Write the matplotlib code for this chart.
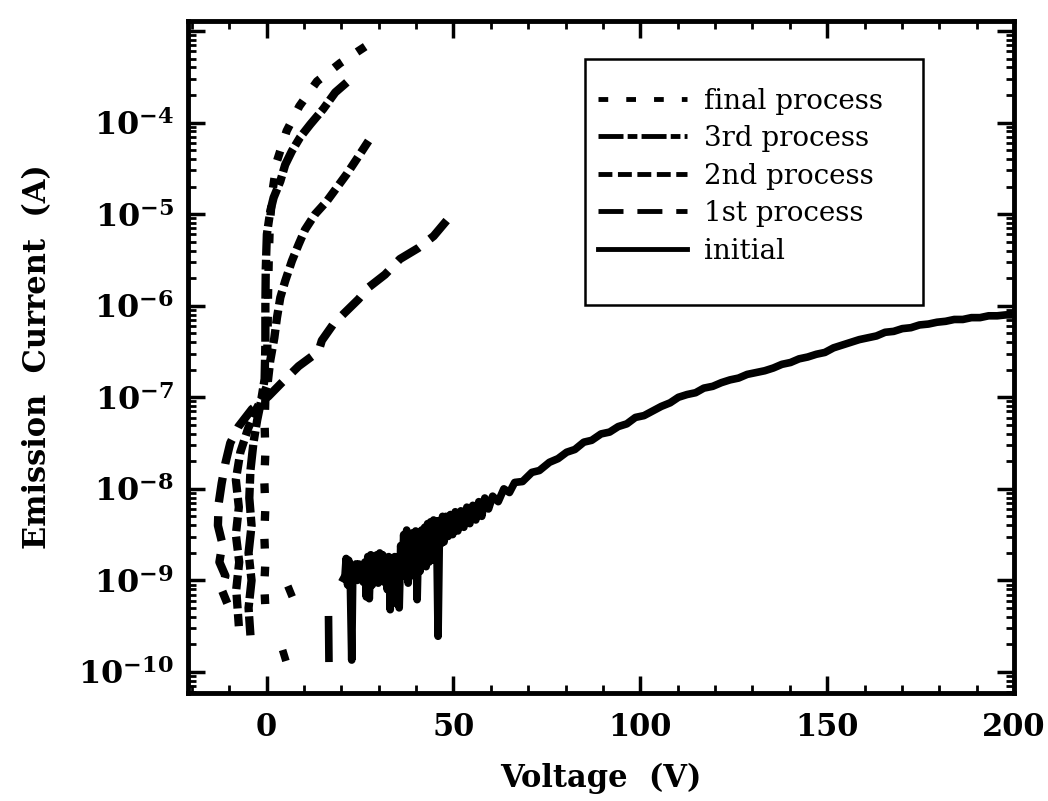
import numpy as np
import matplotlib
matplotlib.use("Agg")
import matplotlib.pyplot as plt
from matplotlib.patches import Rectangle
from matplotlib.ticker import FixedLocator, FixedFormatter, MultipleLocator, LogLocator, NullFormatter

plt.rcParams['font.family'] = ['DejaVu Serif']
plt.rcParams['mathtext.fontset'] = 'dejavuserif'
plt.rcParams['lines.scale_dashes'] = False

nan = np.nan

# each row: voltage (V), log10 of emission current (A)
initial = np.array([
    [4.6, -9.80], [4.9, -9.84], [nan, nan], [6.1, -9.10], [6.5, -9.14], [nan, nan],
    [16.6, -9.43], [16.7, -9.85], [nan, nan],
    [20.6, -8.98], [21.0, -8.95], [21.3, -8.76], [21.7, -9.05], [22.0, -8.78],
    [22.4, -8.95], [22.8, -9.87], [23.1, -8.85], [23.5, -8.98], [23.9, -8.82],
    [24.3, -9.00], [24.7, -8.82], [25.1, -8.98], [25.5, -8.84], [25.9, -9.02],
    [26.3, -8.80], [26.7, -9.18], [27.1, -8.74], [27.5, -9.20], [27.9, -8.72],
    [28.3, -9.05], [28.7, -8.78], [29.1, -8.95], [29.5, -8.72], [29.9, -9.03],
    [30.3, -8.70], [30.7, -8.98], [31.1, -8.72], [31.5, -9.02], [31.9, -8.78],
    [32.3, -9.10], [32.7, -8.74], [33.1, -9.32], [33.5, -8.76], [33.9, -9.25],
    [34.3, -8.74], [34.7, -9.05], [35.1, -8.78], [35.5, -9.30], [35.9, -8.62],
    [36.3, -8.95], [36.7, -8.50], [37.1, -8.90], [37.5, -8.45], [37.9, -9.03],
    [38.3, -8.50], [38.7, -8.95], [39.1, -8.48], [39.5, -8.85], [39.9, -8.46],
    [40.3, -9.21], [40.7, -8.48], [41.1, -8.90], [41.5, -8.45], [41.9, -8.80],
    [42.3, -8.42], [42.7, -8.85], [43.1, -8.38], [43.5, -8.80], [43.9, -8.36],
    [44.3, -8.78], [44.7, -8.34], [45.1, -8.70], [45.5, -8.35], [45.9, -9.61],
    [46.3, -8.35], [46.7, -8.60], [47.1, -8.30], [47.5, -8.58], [48.0, -8.30],
    [48.6, -8.52], [49.2, -8.28], [49.8, -8.50], [50.5, -8.25], [51.2, -8.46],
    [52.0, -8.24], [52.8, -8.42], [53.6, -8.20], [54.4, -8.38], [55.2, -8.18],
    [56.0, -8.34], [56.8, -8.14], [57.6, -8.30], [58.4, -8.10], [59.4, -8.22],
    [60.5, -8.08], [62.0, -8.14], [63.5, -8.00], [65.0, -8.04], [66.4, -7.93],
    [68.5, -7.92], [71.0, -7.82], [73.0, -7.80], [75.7, -7.71], [78.0, -7.67],
    [80.3, -7.60], [82.5, -7.57], [84.9, -7.49], [87.0, -7.47], [89.5, -7.40],
    [91.8, -7.38], [94.1, -7.32], [96.4, -7.29], [98.7, -7.22], [101.0, -7.20],
    [103.3, -7.15], [105.6, -7.10], [108.0, -7.06], [110.2, -7.00], [112.5, -6.97],
    [114.8, -6.95], [117.0, -6.90], [119.4, -6.88], [121.7, -6.84], [124.0, -6.81],
    [126.3, -6.79], [128.6, -6.75], [131.0, -6.73], [133.3, -6.71], [135.6, -6.68],
    [137.9, -6.64], [140.2, -6.62], [142.5, -6.58], [144.8, -6.56], [147.1, -6.53],
    [149.4, -6.51], [151.7, -6.46], [154.0, -6.43], [156.3, -6.40], [158.6, -6.37],
    [160.9, -6.35], [163.2, -6.33], [165.5, -6.29], [167.8, -6.28], [170.1, -6.25],
    [172.4, -6.24], [174.7, -6.21], [177.1, -6.20], [179.4, -6.18], [181.7, -6.17],
    [184.0, -6.15], [186.3, -6.15], [188.6, -6.13], [190.9, -6.13], [193.2, -6.11],
    [195.5, -6.11], [197.8, -6.10], [200.0, -6.10],
])

first = np.array([
    [48.2, -5.07], [44.7, -5.24], [40.6, -5.37], [35.7, -5.49], [31.7, -5.66],
    [27.3, -5.80], [24.6, -5.93], [20.6, -6.09], [17.9, -6.20], [14.8, -6.38],
    [13.9, -6.50], [8.6, -6.66], [4.1, -6.84], [0.5, -6.99], [-3.9, -7.13],
    [-7.5, -7.32], [-9.7, -7.50], [-11.0, -7.72], [-12.0, -7.94], [-12.8, -8.16],
    [-13.0, -8.40], [-11.8, -8.60], [-12.6, -8.80], [-11.0, -8.95], [-12.0, -9.10],
    [-10.5, -9.25],
])

second = np.array([
    [27.3, -4.20], [24.1, -4.40], [21.5, -4.56], [18.8, -4.71], [16.1, -4.86],
    [13.0, -5.00], [10.3, -5.17], [8.6, -5.33], [6.8, -5.51], [5.0, -5.73],
    [3.7, -5.91], [2.8, -6.13], [2.1, -6.35], [1.0, -6.60], [0.3, -6.85],
    [-1.0, -7.00], [-3.0, -7.15], [-5.0, -7.35], [-7.0, -7.60], [-8.2, -7.90],
    [-7.4, -8.20], [-8.2, -8.50], [-7.3, -8.80], [-8.1, -9.10], [-7.4, -9.50],
])

third = np.array([
    [21.5, -3.56], [18.4, -3.67], [15.2, -3.85], [11.7, -4.02], [9.0, -4.16],
    [6.8, -4.31], [5.0, -4.46], [3.7, -4.64], [1.9, -4.82], [1.0, -4.97],
    [0.1, -5.22], [-0.2, -5.60], [-0.3, -6.00], [-0.3, -6.40], [-0.5, -6.80],
    [-1.5, -7.05], [-2.5, -7.25], [-3.5, -7.50], [-4.3, -7.80], [-4.6, -8.10],
    [-4.0, -8.40], [-4.8, -8.70], [-4.0, -9.00], [-4.8, -9.30], [-4.3, -9.60],
])

final = np.array([
    [26.4, -3.17], [19.7, -3.35], [13.5, -3.55], [8.8, -3.82], [5.4, -4.09],
    [2.8, -4.42], [1.6, -4.75], [0.9, -5.10], [0.6, -5.50], [0.4, -5.90],
    [0.3, -6.30], [0.1, -6.70], [-0.3, -7.00], [-0.5, -7.30], [-0.3, -7.60],
    [-0.6, -7.90], [-0.3, -8.20], [-0.6, -8.50], [-0.3, -8.80], [-0.6, -9.05],
    [-0.3, -9.30],
])

labels = ['final process', '3rd process', '2nd process', '1st process', 'initial']
x_ticks = [0, 50, 100, 150, 200]
y_decades = [-10, -9, -8, -7, -6, -5, -4, -3]

fig = plt.figure(figsize=(10.48, 8.01), dpi=100)
ax = fig.add_axes([0.1794, 0.1348, 0.7882, 0.8390])

lw = 6
ax.plot(final[:, 0], 10 ** final[:, 1], color='black', lw=lw, dashes=(7, 13), label=labels[0])
ax.plot(third[:, 0], 10 ** third[:, 1], color='black', lw=lw, dashes=(18, 3, 7, 3), label=labels[1])
ax.plot(second[:, 0], 10 ** second[:, 1], color='black', lw=lw, dashes=(10, 4), label=labels[2])
ax.plot(first[:, 0], 10 ** first[:, 1], color='black', lw=lw, dashes=(18, 10), label=labels[3])
ax.plot(initial[:, 0], 10 ** initial[:, 1], color='black', lw=5.5, label=labels[4])

ax.set_yscale('log')
ax.set_xlim(-21, 200)
ax.set_ylim(10 ** -10.23, 10 ** -2.89)

ax.xaxis.set_major_locator(FixedLocator(x_ticks))
ax.xaxis.set_minor_locator(MultipleLocator(10))
ax.set_xticklabels([str(t) for t in x_ticks], fontweight='bold', fontsize=22)

ax.yaxis.set_major_locator(FixedLocator([10.0 ** d for d in y_decades]))
ylabs = [r'$\mathbf{10^{%d}}$' % d if d < -3 else '' for d in y_decades]
ax.yaxis.set_major_formatter(FixedFormatter(ylabs))
ax.yaxis.set_minor_locator(LogLocator(base=10, subs=np.arange(2, 10), numticks=20))
ax.yaxis.set_minor_formatter(NullFormatter())
for t in ax.get_yticklabels():
    t.set_fontsize(23)

ax.tick_params(which='both', direction='in', top=True, right=True, color='black')
ax.tick_params(which='major', length=12, width=2.5)
ax.tick_params(which='minor', length=6, width=2)
ax.tick_params(axis='x', which='major', pad=14)
ax.tick_params(axis='y', which='major', pad=10)
for s in ax.spines.values():
    s.set_linewidth(3.5)

ax.set_xlabel('Voltage  (V)', fontsize=22, fontweight='bold', labelpad=14)
ax.set_ylabel('Emission  Current  (A)', fontsize=22, fontweight='bold', labelpad=18)

# legend frame drawn on its own so the box can be taller than the entries
ax.add_patch(Rectangle((0.481, 0.577), 0.409, 0.366, transform=ax.transAxes,
                       facecolor='white', edgecolor='black', lw=1.8, zorder=4))
leg = ax.legend(loc='upper left', bbox_to_anchor=(0.4964, 0.901), fontsize=20,
                frameon=False, handlelength=3.2, handletextpad=0.6,
                labelspacing=0.38, borderpad=0, borderaxespad=0)
leg.set_zorder(5)
for l in leg.get_lines():
    l.set_linewidth(3.5)

fig.savefig('out.png', dpi=100)
